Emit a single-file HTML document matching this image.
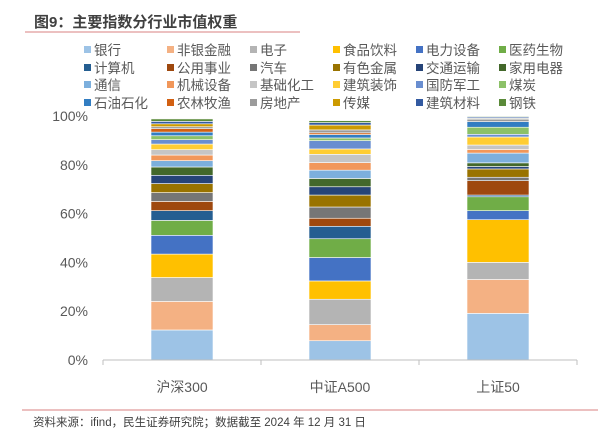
<!DOCTYPE html>
<html><head><meta charset="utf-8"><style>
body{margin:0;background:#fff;width:604px;height:435px;overflow:hidden;font-family:"Liberation Sans","Noto Sans CJK SC",sans-serif}
</style></head><body>
<svg width="604" height="435" id="svg" style="font-family:'Liberation Sans','Noto Sans CJK SC',sans-serif">
<text x="34" y="27" font-size="15" font-weight="bold" fill="#404040">图9：主要指数分行业市值权重</text>
<line x1="25" y1="32" x2="300" y2="32" stroke="#D98080" stroke-width="1"/>
<line x1="22" y1="410" x2="598" y2="410" stroke="#D98080" stroke-width="1"/>
<text x="33" y="426" font-size="11.5" fill="#404040">资料来源：ifind，民生证券研究院；数据截至 2024 年 12 月 31 日</text>
<g id="plot"></g>
</svg>
<script>
const industries=["银行","非银金融","电子","食品饮料","电力设备","医药生物","计算机","公用事业","汽车","有色金属","交通运输","家用电器","通信","机械设备","基础化工","建筑装饰","国防军工","煤炭","石油石化","农林牧渔","房地产","传媒","建筑材料","钢铁"];
const categories=["沪深300","中证A500","上证50"];
const hs300=[12.3,11.7,9.8,9.6,7.7,6.1,4.0,3.8,3.6,3.7,3.4,3.4,2.6,2.3,2.2,2.3,1.8,1.6,1.5,1.4,0.8,1.2,1.0,1.0];
const a500=[7.9,6.6,10.4,7.5,9.6,7.7,5.1,3.3,4.6,4.9,3.4,3.4,3.4,3.1,3.4,2.2,3.4,1.1,1.4,0.7,1.2,2.0,1.0,0.8];
const sz50=[19.1,13.9,7.0,17.5,3.7,5.7,0.7,5.9,1.4,3.4,1.0,1.5,4.0,1.5,1.8,3.3,1.1,2.9,2.3,0.0,1.0,0.3,0.5,0.3];
const yTicks=["0%","20%","40%","60%","80%","100%"];
const series=[hs300,a500,sz50];
const colors=["#9DC3E6","#F4B183","#B4B4B4","#FFC000","#4472C4","#70AD47","#255E91","#9E480E","#767676","#997300","#264478","#43682B","#7CAFDD","#F1975A","#C5C5C5","#FFCD33","#698ED0","#8CC168","#327DC2","#D26012","#9B9B9B","#CC9A00","#335AA1","#5A8A39"];
const NS="http://www.w3.org/2000/svg";
const g=document.getElementById('plot');
const x0=103,x1=577,y0=360,yTop=116;
const y=v=>y0-(v/100)*(y0-yTop);
const band=(x1-x0)/categories.length;
function mk(t,a){const e=document.createElementNS(NS,t);for(const k in a)e.setAttribute(k,a[k]);g.appendChild(e);return e;}
yTicks.forEach((t,i)=>{const v=i*20;const e=mk('text',{x:88,y:y(v)+5,'font-size':14,fill:'#595959','text-anchor':'end'});e.textContent=t;

});
const bw=62;
series.forEach((s,ci)=>{let acc=0;const cx=x0+band*(ci+0.5);
s.forEach((v,k)=>{const r=mk('rect',{x:cx-bw/2,y:y(acc+v),width:bw,height:Math.max(0,y(acc)-y(acc+v)),fill:colors[k],stroke:'#fff','stroke-width':0.6});


acc+=v;});
const t=mk('text',{x:cx,y:392,'font-size':14,fill:'#595959','text-anchor':'middle'});t.textContent=categories[ci];

});
const ax=mk('line',{x1:x0,y1:y0,x2:x1,y2:y0,stroke:'#BFBFBF','stroke-width':1});


for(let i=0;i<=categories.length;i++){const tk=mk('line',{x1:x0+band*i,y1:y0,x2:x0+band*i,y2:y0+5,stroke:'#BFBFBF'});

}
const colX=[84,167,250,333,416,499],rowY=[55,73,90,108];
industries.forEach((n,i)=>{const cx=colX[i%6],cy=rowY[Math.floor(i/6)];
const sq=mk('rect',{x:cx,y:cy-9,width:7,height:7,fill:colors[i]});


const t=mk('text',{x:cx+10,y:cy,'font-size':13.5,fill:'#595959'});t.textContent=n;

});
</script>
</body></html>
